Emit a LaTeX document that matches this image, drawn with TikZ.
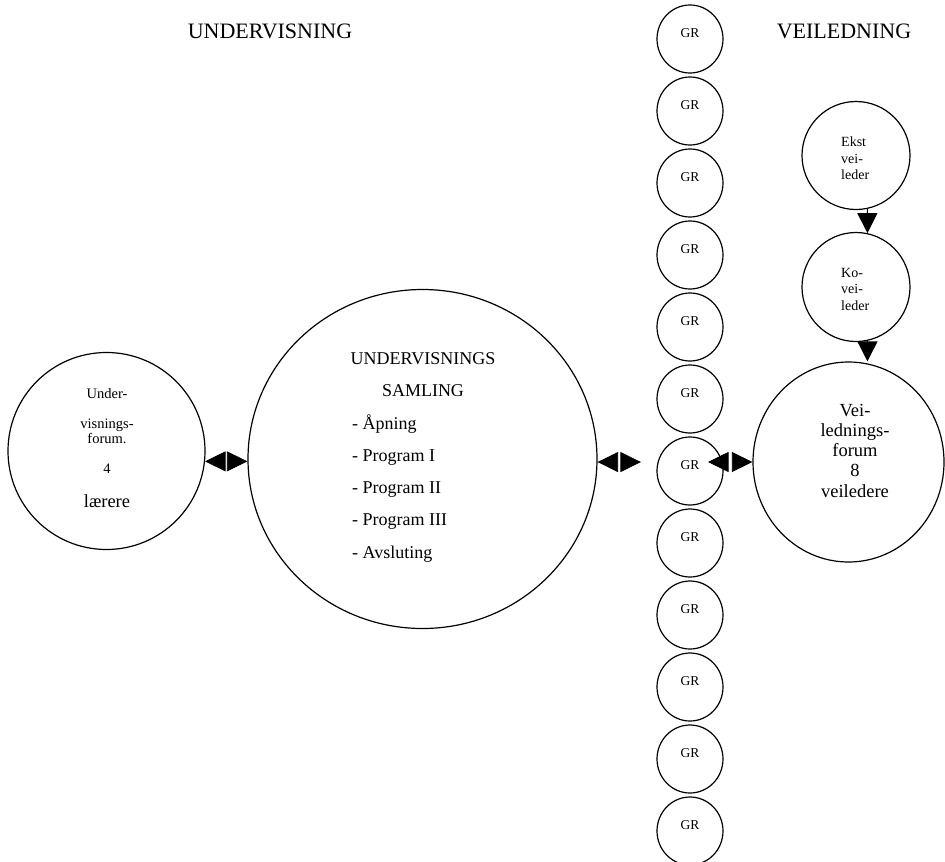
\documentclass[tikz,border=0pt]{standalone}
\usepackage{fontspec}
\setmainfont{Liberation Serif}
\usetikzlibrary{arrows.meta,shapes.geometric}
\begin{document}
\begin{tikzpicture}[x=1pt,y=-1pt,
  ring/.style={draw, line width=1.2pt, ellipse, inner sep=0pt},
  txt/.style={inner sep=0pt, anchor=base},
  ltxt/.style={inner sep=0pt, anchor=base west},
  title/.style={txt, font=\fontsize{22}{26}\selectfont},
  twoway/.style={white, line width=0.8pt,
    {Triangle[length=20.5pt,width=20pt,color=black]}-{Triangle[length=20.5pt,width=20pt,color=black]}},
  oneway/.style={line width=1.2pt, -{Triangle[length=20pt,width=20pt]}}]
\useasboundingbox (0,0) rectangle (945,862);

% headings
\node[title] (tU) at (270,38) {UNDERVISNING};
\node[title] (tV) at (844,38) {VEILEDNING};

% teaching side
\node[ring, minimum width=197pt, minimum height=197pt] (forum) at (106.5,451) {};
\begin{scope}[every node/.style={txt, font=\fontsize{14.5}{17}\selectfont}]
  \node (f1) at (107,398) {Under-};
  \node (f2) at (107,428) {visnings-};
  \node (f3) at (107,443) {forum.};
  \node (f4) at (107,473) {4};
  \node[font=\fontsize{18.5}{22}\selectfont] (f5) at (107,507) {lærere};
\end{scope}

\node[ring, minimum width=349pt, minimum height=339pt] (saml) at (422.5,459) {};
\begin{scope}[every node/.style={txt, font=\fontsize{18}{21}\selectfont}]
  \node (s1) at (423,364) {UNDERVISNINGS};
  \node (s2) at (423,396) {SAMLING};
  \node[ltxt] (s3) at (352,429) {- Åpning};
  \node[ltxt] (s4) at (352,461) {- Program I};
  \node[ltxt] (s5) at (352,493) {- Program II};
  \node[ltxt] (s6) at (352,525) {- Program III};
  \node[ltxt] (s7) at (352,558) {- Avsluting};
\end{scope}

% column of groups
\foreach \i in {0,...,11}{
  \node[ring, minimum width=66pt, minimum height=68pt] (gr\i) at (690,{39+72*\i}) {};
  \node[txt, font=\fontsize{13.5}{16}\selectfont] (grt\i) at (690,{37+72*\i}) {GR};
}

% supervision side
\node[ring, minimum width=108pt, minimum height=108pt] (ekst) at (856,155.5) {};
\begin{scope}[every node/.style={ltxt, font=\fontsize{14}{16}\selectfont}]
  \node (e1) at (841,146) {Ekst};
  \node (e2) at (841,163) {vei-};
  \node (e3) at (841,179) {leder};
\end{scope}

\node[ring, minimum width=108pt, minimum height=109pt] (ko) at (856,287) {};
\begin{scope}[every node/.style={ltxt, font=\fontsize{14}{16}\selectfont}]
  \node (k1) at (841,277) {Ko-};
  \node (k2) at (841,293) {vei-};
  \node (k3) at (841,310) {leder};
\end{scope}

\node[ring, minimum width=191pt, minimum height=200pt] (vf) at (848.5,462) {};
\begin{scope}[every node/.style={txt, font=\fontsize{18.5}{21}\selectfont}]
  \node (v1) at (855,416) {Vei-};
  \node (v2) at (855,436) {lednings-};
  \node (v3) at (855,456) {forum};
  \node (v4) at (855,476) {8};
  \node (v5) at (855,497) {veiledere};
\end{scope}

% connectors
\draw[twoway] (forum.-6) -- (forum.-6 -| saml.west);
\draw[twoway, shorten >=15.5pt] (saml.-1) -- (saml.-1 -| gr6.west);
\draw[twoway, shorten <=18pt] (gr6.center |- vf.west) -- (vf.west);
\draw[oneway] (ekst.-78) -- (ko.78);
\draw[oneway] (ko.-78) -- (ko.-78 |- vf.north);
\end{tikzpicture}
\end{document}
